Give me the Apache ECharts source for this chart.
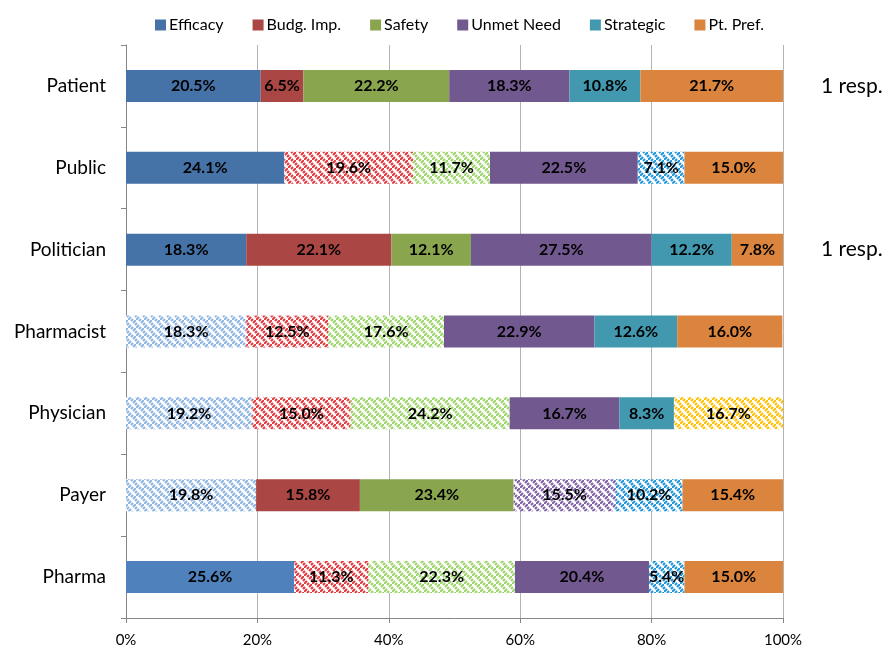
<!DOCTYPE html>
<html>
<head>
<meta charset="utf-8">
<script src="https://cdn.jsdelivr.net/npm/echarts@6/dist/echarts.min.js"></script>
<style>
  html, body { margin: 0; padding: 0; background: #fff; }
  #chart { width: 889px; height: 650px; }
</style>
</head>
<body>
<div id="chart"></div>
<script>
// categories, top to bottom
var groups = ['Patient', 'Public', 'Politician', 'Pharmacist', 'Physician', 'Payer', 'Pharma']
var notes = ['1 resp.', '', '1 resp.', '', '', '', '']
var seriesNames = ['Efficacy', 'Budg. Imp.', 'Safety', 'Unmet Need', 'Strategic', 'Pt. Pref.']

var efficacy = [20.5, 24.1, 18.3, 18.3, 19.2, 19.8, 25.6]
var budget = [6.5, 19.6, 22.1, 12.5, 15.0, 15.8, 11.3]
var safety = [22.2, 11.7, 12.1, 17.6, 24.2, 23.4, 22.3]
var unmet = [18.3, 22.5, 27.5, 22.9, 16.7, 15.5, 20.4]
var strategic = [10.8, 7.1, 12.2, 12.6, 8.3, 10.2, 5.4]
var ptPref = [21.7, 15.0, 7.8, 16.0, 16.7, 15.4, 15.0]
var xTicks = [0, 20, 40, 60, 80, 100]

// styling: solid colour, hatch colour, and which rows are hatched
var solid = ['#4572A7', '#AA4643', '#89A54E', '#71588F', '#4198AF', '#DB843D']
var hatchColor = ['#8DB3E2', '#E0393E', '#9BD468', '#7F5FA5', '#1E93D8', '#FFC000']
var hatched = [
  [false, false, false, true, true, true, false],
  [false, true, false, true, true, false, true],
  [false, true, false, true, true, false, true],
  [false, false, false, false, false, true, false],
  [false, true, false, false, false, true, true],
  [false, false, false, false, true, false, false]
]

function hatch(color) {
  var c = document.createElement('canvas')
  c.width = 8
  c.height = 8
  var ctx = c.getContext('2d')
  ctx.fillStyle = '#fff'
  ctx.fillRect(0, 0, 8, 8)
  ctx.strokeStyle = color
  ctx.lineWidth = 2
  ctx.lineCap = 'butt'
  ctx.beginPath()
  ctx.moveTo(-1, 9); ctx.lineTo(3, 5)
  ctx.moveTo(5, 3); ctx.lineTo(9, -1)
  ctx.moveTo(3, 9); ctx.lineTo(5, 7)
  ctx.moveTo(7, 5); ctx.lineTo(9, 3)
  ctx.moveTo(-1, 5); ctx.lineTo(1, 3)
  ctx.moveTo(3, 1); ctx.lineTo(5, -1)
  ctx.stroke()
  return { image: c, repeat: 'repeat' }
}

var allData = [efficacy, budget, safety, unmet, strategic, ptPref]

var chart = echarts.init(document.getElementById('chart'))

var series = allData.map(function (vals, s) {
  return {
    name: seriesNames[s],
    type: 'bar',
    stack: 'total',
    barWidth: 32,
    itemStyle: { color: solid[s] },
    label: {
      show: true,
      position: 'inside',
      color: '#000',
      fontFamily: 'Lato',
      fontWeight: 'bold',
      fontSize: 16,
      formatter: function (p) { return p.value.toFixed(1) + '%' }
    },
    data: vals.map(function (v, i) {
      var item = { value: v }
      if (hatched[s][i]) item.itemStyle = { color: hatch(hatchColor[s]) }
      if (s === 0 && i === 6) item.itemStyle = { color: '#4F81BD' }
      return item
    })
  }
})

chart.setOption({
  animation: false,
  backgroundColor: '#fff',
  textStyle: { fontFamily: 'Lato' },
  legend: {
    top: 12,
    left: 150,
    icon: 'rect',
    itemWidth: 11,
    itemHeight: 11,
    itemGap: 29,
    data: seriesNames.map(function (n, i) { return { name: n, itemStyle: { color: solid[i] } } }),
    textStyle: { fontSize: 16, color: '#000', fontFamily: 'Lato', padding: [0, 0, 0, -2] }
  },
  grid: { left: 126, right: 106, top: 45, bottom: 32 },
  xAxis: {
    type: 'value',
    min: 0,
    max: 100,
    interval: 20,
    axisLine: { show: true, lineStyle: { color: '#868686' } },
    axisTick: { show: true, length: 5, lineStyle: { color: '#868686' } },
    splitLine: { show: true, lineStyle: { color: '#B3B3B3' } },
    axisLabel: {
      color: '#000',
      fontSize: 15,
      margin: 15,
      formatter: function (v) { return xTicks.indexOf(v) >= 0 ? v + '%' : '' }
    }
  },
  yAxis: [{
    type: 'category',
    inverse: true,
    data: groups,
    axisLine: { show: true, lineStyle: { color: '#868686' } },
    axisTick: { show: true, length: 5, lineStyle: { color: '#868686' } },
    axisLabel: { color: '#000', fontSize: 19, margin: 20 }
  }, {
    type: 'category',
    inverse: true,
    position: 'right',
    data: notes,
    axisLine: { show: false },
    axisTick: { show: false },
    axisLabel: { color: '#000', fontSize: 21, margin: 38 }
  }],
  series: series
})
</script>
</body>
</html>
